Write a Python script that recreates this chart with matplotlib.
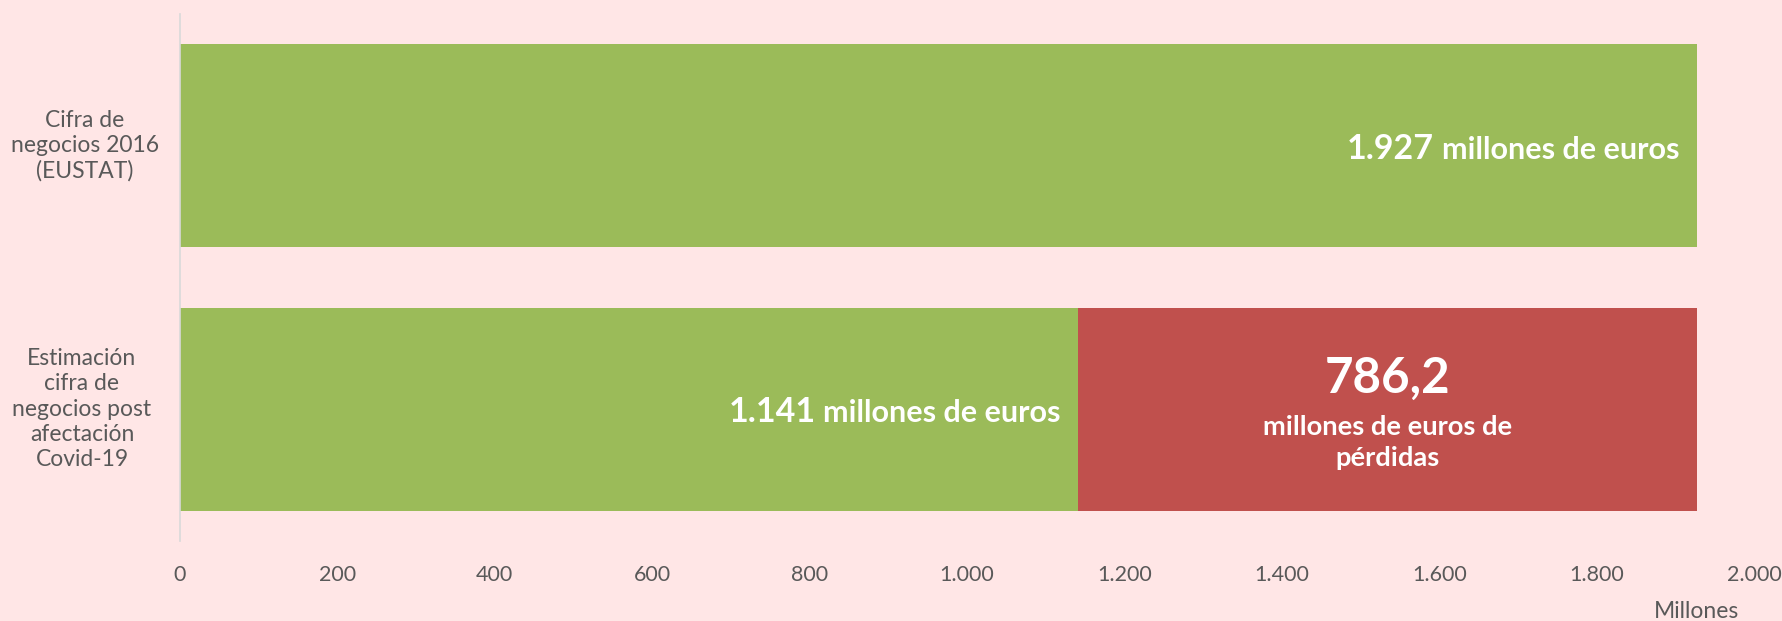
import matplotlib
matplotlib.use("Agg")
import matplotlib.pyplot as plt
from matplotlib.ticker import FuncFormatter

plt.rcParams['font.family'] = ['Lato', 'DejaVu Sans']

# ---- data ----
categories = ["Cifra de\nnegocios 2016\n(EUSTAT)",
              "Estimación\ncifra de\nnegocios post\nafectación\nCovid-19"]
base_values = [1927, 1141]
loss_values = [0, 786.2]
base_labels = ["1.927", "1.141"]
loss_label = "786,2"
unit_text = "millones de euros"
loss_text = "millones de euros de\npérdidas"
xticks = [0, 200, 400, 600, 800, 1000, 1200, 1400, 1600, 1800, 2000]
axis_unit = "Millones"

# ---- style ----
BG = "#FFE6E6"
GREEN = "#9BBB59"
RED = "#C0504D"
TXT = "#595959"

W, H = 1782, 621
fig = plt.figure(figsize=(W / 100, H / 100), dpi=100, facecolor=BG)
ax = fig.add_axes([180 / W, (H - 541) / H, (1754 - 180) / W, (541 - 14) / H])
ax.set_facecolor(BG)

ypos = list(range(len(categories)))
bh = 0.772
ax.barh(ypos, base_values, height=bh, color=GREEN, zorder=2)
ax.barh(ypos, loss_values, left=base_values, height=bh, color=RED, zorder=2)

ax.set_xlim(0, 2000)
ax.set_ylim(len(categories) - 0.5, -0.5)
ax.set_xticks(xticks)
ax.xaxis.set_major_formatter(FuncFormatter(lambda v, p: f"{int(v):,}".replace(",", ".")))
ax.tick_params(axis='x', length=0, pad=17, labelsize=15.5, labelcolor=TXT)
ax.set_yticks([])
for s in ['top', 'right', 'bottom']:
    ax.spines[s].set_visible(False)
ax.spines['left'].set_color("#D9D9D9")
ax.spines['left'].set_linewidth(1.2)

# category labels
for y, c in zip(ypos, categories):
    ax.text(-0.0604 if y == 0 else -0.0623, y, c, transform=ax.get_yaxis_transform(),
            ha='center', va='center', fontsize=16.5, color=TXT, linespacing=1.25)

# base value labels (right-aligned inside the green bars)
px = 0.72
for y, v, lab in zip(ypos, base_values, base_labels):
    suf = ax.annotate(unit_text, xy=(v, y), xytext=(-17 * px, -13 * px),
                      textcoords='offset points', ha='right', va='baseline',
                      fontsize=22, fontweight='bold', color='white', zorder=3)
    ax.annotate(lab, xy=(0, y), xycoords=(suf, 'data'), xytext=(-8 * px, -13 * px),
                textcoords='offset points', ha='right', va='baseline',
                fontsize=24.5, fontweight='bold', color='white', zorder=3)

# loss label (centred in the red segment)
yl = 1
xc = base_values[yl] + loss_values[yl] / 2
ax.annotate(loss_label, xy=(xc, yl), xytext=(0, 16.5 * px), textcoords='offset points',
            ha='center', va='baseline', fontsize=35.5, fontweight='bold', color='white', zorder=3)
for i, line in enumerate(loss_text.split("\n")):
    ax.annotate(line, xy=(xc, yl), xytext=(0, (-25.7 - 31 * i) * px), textcoords='offset points',
                ha='center', va='baseline', fontsize=19.7, fontweight='bold', color='white',
                zorder=3)

fig.text(1696 / W, (H - 612) / H, axis_unit, ha='center', va='center', fontsize=16.5, color=TXT)

fig.savefig("out.png", dpi=100, facecolor=BG)
